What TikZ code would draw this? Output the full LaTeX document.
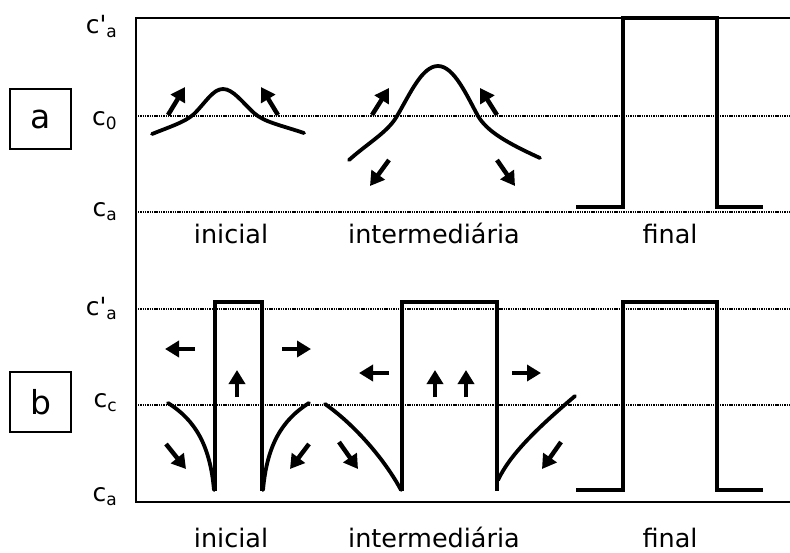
\documentclass[tikz,border=0pt]{standalone}
\usepackage{fontspec}
\setmainfont{DejaVu Sans}
\usetikzlibrary{arrows.meta}
\tikzset{
  axisline/.style={line width=2.6pt},
  guide/.style={line width=2pt, dash pattern=on 1.4pt off 0.9pt},
  curveline/.style={line width=3.8pt, line cap=round},
  stepline/.style={line width=4.8pt, line join=miter},
  flux/.style={line width=4.5pt, -{Triangle[length=14pt,width=16pt]}},
  tag/.style={draw, line width=2pt, minimum width=61pt, minimum height=60pt, inner sep=0pt, font=\fontsize{33}{33}\selectfont},
  conc/.style={anchor=base east, inner sep=0pt, font=\fontsize{25}{25}\selectfont},
  stage/.style={anchor=base, inner sep=0pt, font=\fontsize{25.5}{25.5}\selectfont}
}
\newcommand{\subtx}[1]{\raisebox{-4pt}{\fontsize{17}{17}\selectfont #1}}
\begin{document}
\begin{tikzpicture}[x=1pt,y=-1pt]
\useasboundingbox (0,0) rectangle (790,552);
% frame
\draw[axisline] (790,18) -- (136,18) -- (136,502) -- (790,502);
% guide lines
\draw[guide] (138,116) -- (790,116);
\draw[guide] (138,212) -- (790,212);
\draw[guide] (138,309) -- (790,309);
\draw[guide] (138,405) -- (790,405);
% concentration labels
\node[conc] (lca1) at (117,33) {c\textquotesingle\subtx{a}};
\node[conc] (lc0) at (117,125) {c\subtx{0}};
\node[conc] (lca2) at (117,216) {c\subtx{a}};
\node[conc] (lca3) at (117,315) {c\textquotesingle\subtx{a}};
\node[conc] (lcc) at (117,407) {c\subtx{c}};
\node[conc] (lca4) at (117,501) {c\subtx{a}};
% tags
\node[tag] (taga) at (40.5,119) {a};
\node[tag] (tagb) at (40.5,402) {b};
% stage labels
\node[stage] (s1) at (231,243) {inicial};
\node[stage] (s2) at (434,243) {intermediária};
\node[stage] (s3) at (670,243) {final};
\node[stage] (s4) at (231,547) {inicial};
\node[stage] (s5) at (434,547) {intermediária};
\node[stage] (s6) at (670,547) {final};
% panel a - inicial
\draw[curveline] (152,134) .. controls (172,126) and (185,122) .. (194,114)
  .. controls (206,102) and (213,89) .. (223,89)
  .. controls (233,89) and (242,102) .. (254,113)
  .. controls (264,122) and (280,125) .. (304,133);
\draw[flux] (168,115) -- (185,87);
\draw[flux] (278,115) -- (261,87);
% panel a - intermediaria
\draw[curveline] (349,160) .. controls (368,143) and (388,132) .. (397,116)
  .. controls (410,94) and (422,66) .. (438,66)
  .. controls (454,66) and (467,96) .. (478,116)
  .. controls (487,131) and (505,142) .. (540,158);
\draw[flux] (372,115) -- (389,88);
\draw[flux] (497,115) -- (480,88);
\draw[flux] (389,160) -- (370,186);
\draw[flux] (497,160) -- (515,186);
% panel a - final
\draw[stepline] (576,207) -- (623,207) -- (623,18) -- (717,18) -- (717,207) -- (763,207);
% panel b - inicial
\draw[curveline] (168,403) .. controls (195,420) and (210,445) .. (214,490);
\draw[curveline] (263,490) .. controls (267,445) and (282,420) .. (309,403);
\draw[stepline] (215,491) -- (215,302) -- (262,302) -- (262,491);
\draw[flux] (195,349) -- (165,349);
\draw[flux] (282,349) -- (311,349);
\draw[flux] (237,397) -- (237,370);
\draw[flux] (166,444) -- (186,469);
\draw[flux] (309,444) -- (290,469);
% panel b - intermediaria
\draw[curveline] (325,404) .. controls (355,425) and (385,460) .. (401,490);
\draw[curveline] (498,480) .. controls (510,455) and (535,430) .. (575,396);
\draw[stepline] (402,491) -- (402,302) -- (497,302) -- (497,491);
\draw[flux] (389,373) -- (359,373);
\draw[flux] (512,373) -- (541,373);
\draw[flux] (435,397) -- (435,370);
\draw[flux] (466,397) -- (466,370);
\draw[flux] (339,442) -- (358,469);
\draw[flux] (561,442) -- (542,469);
% panel b - final
\draw[stepline] (576,490) -- (623,490) -- (623,302) -- (717,302) -- (717,490) -- (763,490);
\end{tikzpicture}
\end{document}
